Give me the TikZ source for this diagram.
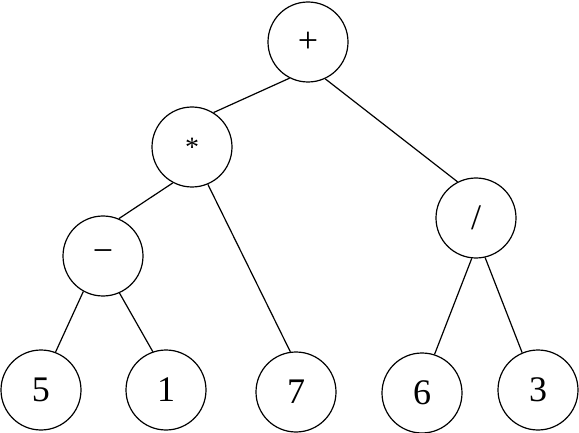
\documentclass[tikz,border=0pt]{standalone}
\usepackage{fontspec}
\setmainfont{Liberation Serif}
\usetikzlibrary{positioning}

\begin{document}
\begin{tikzpicture}[
        x=0.5pt, y=-0.5pt,
        vert/.style={draw, circle, line width=0.6pt, minimum size=40pt, inner sep=0pt, font=\fontsize{18}{20}\selectfont},
        edge/.style={line width=0.6pt}
      ]
        \useasboundingbox (0,0) rectangle (579,433);
        \node[vert] (plus) at (308,42) {+};
        \node[vert] (times) at (192,147) {\fontsize{14}{16}\selectfont\raisebox{-0.3em}{*}};
        \node[vert] (minus) at (103,256) {−};
        \node[vert] (div) at (476,218) {/};
        \node[vert] (five) at (41,390) {5};
        \node[vert] (one) at (166,390) {1};
        \node[vert] (seven) at (296,392) {7};
        \node[vert] (six) at (422,393) {6};
        \node[vert] (three) at (538,390) {3};
        \draw[edge] (plus.243) -- (times.58);
        \draw[edge] (plus.295) -- (div.117);
        \draw[edge] (times.242) -- (minus.67);
        \draw[edge] (times.293) -- (seven.98);
        \draw[edge] (minus.241) -- (five.69);
        \draw[edge] (minus.294) -- (one.109);
        \draw[edge] (div.264) -- (six.72);
        \draw[edge] (div.283) -- (three.113);
      \end{tikzpicture}
\end{document}
